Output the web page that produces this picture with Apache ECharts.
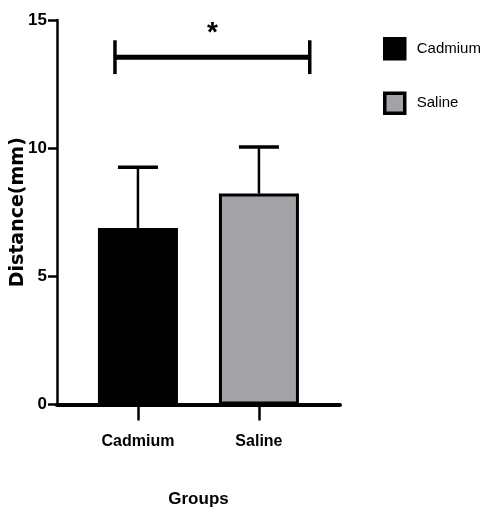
<!DOCTYPE html>
<html>
<head>
<meta charset="utf-8">
<script src="https://cdn.jsdelivr.net/npm/echarts@6/dist/echarts.min.js"></script>
<style>
  html, body { margin: 0; padding: 0; background: #fff; }
  #chart { width: 482px; height: 523px; }
</style>
</head>
<body>
<div id="chart"></div>
<script>
// Group names, mean distances and standard deviations (mm)
const groups = ['Cadmium', 'Saline'];
const means = [6.89, 8.23];
const sds = [2.37, 1.82];
const yTicks = [0, 5, 10, 15];

// Significance bracket between the two groups
const sigSpan = [-0.19, 1.42];
const sigLevel = [13.55];
const sigArm = [0.66];
const sigMark = ['*'];

const SANS = "'Liberation Sans', Arial, sans-serif";
const fillColors = ['#000000', '#a3a2a7'];

const chart = echarts.init(document.getElementById('chart'), null, { renderer: 'canvas' });

const barSeries = groups.map((g, i) => ({
  name: g,
  type: 'bar',
  barWidth: 80,
  barGap: '-100%',
  itemStyle: { color: fillColors[i], borderColor: '#000', borderWidth: 3 },
  data: [[i, means[i]]],
  z: 2
}));

const option = {
  animation: false,
  backgroundColor: '#fff',
  grid: { left: 57, right: 142, top: 20, bottom: 118.5, containLabel: false, outerBoundsMode: 'none' },
  legend: {
    data: groups.map(name => ({ name, itemStyle: { borderColor: '#000', borderWidth: 3.5 } })),
    orient: 'vertical',
    left: 383,
    top: 37,
    padding: 0,
    itemWidth: 20,
    itemHeight: 20,
    itemGap: 31,
    icon: 'rect',
    textStyle: { fontFamily: SANS, fontSize: 15, color: '#000', padding: [0, 0, 0, 7] }
  },
  xAxis: {
    type: 'value',
    min: -0.669,
    max: 1.670,
    splitLine: { show: false },
    axisLine: { show: true, onZero: false, lineStyle: { color: '#000', width: 4 } },
    axisTick: { show: true, customValues: [0, 1], length: 16, lineStyle: { color: '#000', width: 2.5 } },
    axisLabel: {
      customValues: [0, 1],
      formatter: v => groups[Math.round(v)] || '',
      margin: 29,
      fontFamily: SANS,
      fontWeight: 'bold',
      fontSize: 16,
      color: '#000'
    },
    name: 'Groups',
    nameLocation: 'middle',
    nameGap: 86,
    nameMoveOverlap: false,
    nameTextStyle: { fontFamily: SANS, fontWeight: 'bold', fontSize: 17, color: '#000' }
  },
  yAxis: {
    type: 'value',
    min: yTicks[0],
    max: yTicks[yTicks.length - 1],
    interval: yTicks[1] - yTicks[0],
    splitLine: { show: false },
    axisLine: { show: true, onZero: false, lineStyle: { color: '#000', width: 2.5 } },
    axisTick: { show: true, length: 9, lineStyle: { color: '#000', width: 2.5 } },
    axisLabel: {
      margin: 10,
      fontFamily: SANS,
      fontWeight: 'bold',
      fontSize: 17,
      color: '#000'
    },
    name: 'Distance(mm)',
    nameLocation: 'middle',
    nameRotate: 90,
    nameGap: 29,
    nameMoveOverlap: false,
    nameTextStyle: { fontFamily: "'DejaVu Sans', sans-serif", fontWeight: 'bold', fontSize: 19, color: '#000' }
  },
  series: [
    ...barSeries,
    {
      // upper error whiskers (mean + SD)
      name: 'sd',
      type: 'custom',
      z: 3,
      encode: { x: 0, y: [1, 2] },
      data: groups.map((g, i) => [i, means[i], means[i] + sds[i]]),
      renderItem: (params, api) => {
        const base = api.coord([api.value(0), api.value(1)]);
        const top = api.coord([api.value(0), api.value(2)]);
        const half = 20;
        return {
          type: 'group',
          children: [
            { type: 'line', shape: { x1: base[0], y1: base[1], x2: top[0], y2: top[1] },
              style: { stroke: '#000', lineWidth: 2.5 } },
            { type: 'line', shape: { x1: top[0] - half, y1: top[1], x2: top[0] + half, y2: top[1] },
              style: { stroke: '#000', lineWidth: 3.5 } }
          ]
        };
      }
    },
    {
      // significance bracket with its marker
      name: 'sig',
      type: 'custom',
      z: 3,
      encode: { x: [0, 1], y: 2 },
      data: [[sigSpan[0], sigSpan[1], sigLevel[0], sigArm[0]]],
      renderItem: (params, api) => {
        const level = api.value(2), arm = api.value(3);
        const a = api.coord([api.value(0), level]);
        const b = api.coord([api.value(1), level]);
        const aTop = api.coord([api.value(0), level + arm]);
        const aBot = api.coord([api.value(0), level - arm]);
        const bTop = api.coord([api.value(1), level + arm]);
        const bBot = api.coord([api.value(1), level - arm]);
        const stroke = { stroke: '#000', lineWidth: 3.5 };
        return {
          type: 'group',
          children: [
            { type: 'line', shape: { x1: a[0], y1: a[1], x2: b[0], y2: b[1] },
              style: { stroke: '#000', lineWidth: 5 } },
            { type: 'line', shape: { x1: aTop[0], y1: aTop[1], x2: aBot[0], y2: aBot[1] }, style: stroke },
            { type: 'line', shape: { x1: bTop[0], y1: bTop[1], x2: bBot[0], y2: bBot[1] }, style: stroke },
            { type: 'text', x: (a[0] + b[0]) / 2, y: a[1] - 24,
              style: { text: sigMark[0], fill: '#000', fontSize: 28, fontWeight: 'bold',
                       fontFamily: SANS, align: 'center', verticalAlign: 'middle' } }
          ]
        };
      }
    }
  ]
};

chart.setOption(option);
</script>
</body>
</html>
